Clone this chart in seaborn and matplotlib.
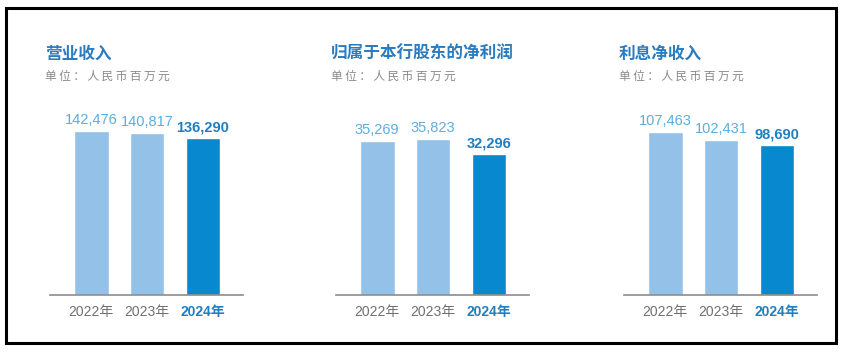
import matplotlib.pyplot as plt
import seaborn as sns
from matplotlib.patches import Rectangle

# 数据 -------------------------------------------------------------
years = ['2022年', '2023年', '2024年']
titles = ['营业收入', '归属于本行股东的净利润', '利息净收入']
unit = '单位：人民币百万元'
revenue = [142476, 140817, 136290]
net_profit = [35269, 35823, 32296]
net_interest = [107463, 102431, 98690]
series = [revenue, net_profit, net_interest]

# 全局设置 ---------------------------------------------------------
sns.set_style('white')
plt.rcParams['font.family'] = ['Liberation Sans', 'Noto Sans CJK SC']
plt.rcParams['axes.unicode_minus'] = False

light = '#93c1e7'
dark = '#0788cf'
title_c = '#2b7bbf'
label_light = '#5aaee0'
label_dark = '#1f7fc0'
grey = '#707070'

fig = plt.figure(figsize=(8.42, 3.53), dpi=100)
W, H = 842, 353

lefts = [50, 336, 624]      # 每个子图左边缘 (px)
fill = [0.84, 0.80, 0.835]  # 最高柱占轴高的比例

for i, vals in enumerate(series):
    ax = fig.add_axes([lefts[i] / W, 58 / H, 193 / W, 195 / H])
    sns.barplot(x=years, y=vals, hue=years, palette=[light, light, dark],
                legend=False, width=0.62, saturation=1, ax=ax)
    ax.set_xlim(-0.74, 2.72)
    ax.set_ylim(0, max(vals) / fill[i])
    for j, c in enumerate(ax.containers):
        bold = j == len(ax.containers) - 1
        ax.bar_label(c, fmt='{:,.0f}', padding=3, fontsize=10.5,
                     fontweight='bold' if bold else 'normal',
                     color=label_dark if bold else label_light)
    sns.despine(ax=ax, left=True)
    ax.spines['bottom'].set_color('#8c8c8c')
    ax.spines['bottom'].set_linewidth(1.2)
    ax.set_yticks([])
    ax.set_xlabel('')
    ax.set_ylabel('')
    ax.tick_params(axis='x', length=0, pad=7)
    ax.set_xticks(range(len(years)))
    ax.set_xticklabels(years, fontsize=10, color=grey)
    last = ax.get_xticklabels()[-1]
    last.set_fontweight('bold')
    last.set_color(label_dark)

    x0 = (lefts[i] - 5) / W
    fig.text(x0, 1 - 54 / H, titles[i], fontsize=12, fontweight='bold',
             color=title_c, va='center', ha='left')
    fig.text(x0, 1 - 76.5 / H, '\u2009'.join(unit), fontsize=8.5,
             color='#8a8a8a', va='center', ha='left')

# 外框
fig.patches.append(Rectangle((6 / W, 10 / H), 830 / W, 335 / H,
                             transform=fig.transFigure, fill=False,
                             edgecolor='black', linewidth=2.2))

fig.savefig('out.png', dpi=100)
